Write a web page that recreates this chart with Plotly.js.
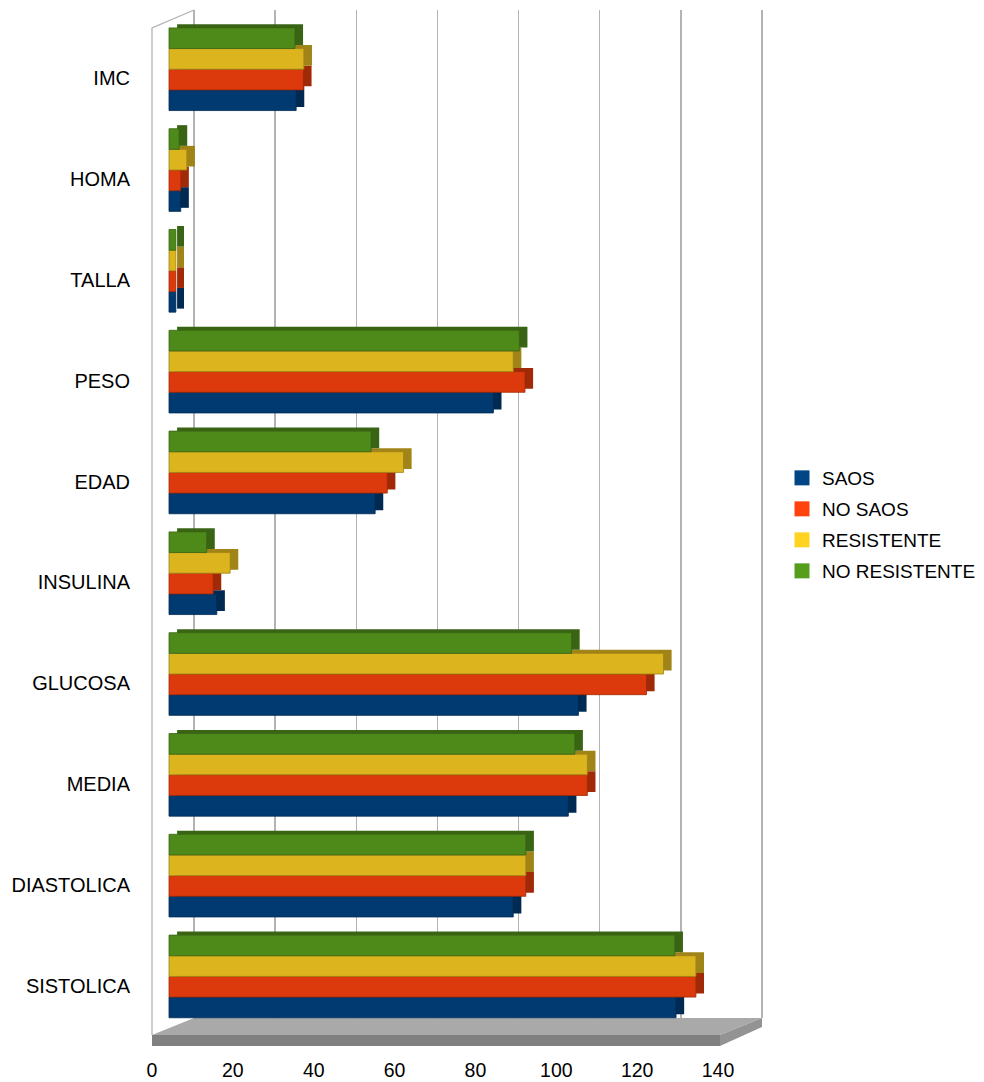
<!DOCTYPE html>
<html>
<head>
<meta charset="utf-8">
<script src="https://cdn.plot.ly/plotly-3.0.1.min.js"></script>
<style>
  html, body { margin: 0; padding: 0; background: #ffffff; }
  #chart { width: 984px; height: 1082px; }
</style>
</head>
<body>
<div id="chart"></div>
<script>
// ---- data (bottom row first) ----
const categories = ['SISTOLICA', 'DIASTOLICA', 'MEDIA', 'GLUCOSA', 'INSULINA', 'EDAD', 'PESO', 'TALLA', 'HOMA', 'IMC'];
const seriesNames = ['SAOS', 'NO SAOS', 'RESISTENTE', 'NO RESISTENTE'];
const saos         = [125.2, 85.0,  98.6, 101.1, 11.8, 50.9, 80.1, 1.7, 2.9, 31.4];
const noSaos       = [130.1, 88.1, 103.3, 117.9, 10.9, 53.9, 87.9, 1.7, 2.9, 33.2];
const resistente   = [130.1, 88.1, 103.3, 122.1, 15.1, 57.9, 85.0, 1.7, 4.4, 33.3];
const noResistente = [124.9, 88.1, 100.2,  99.4,  9.3, 49.9, 86.5, 1.7, 2.5, 31.1];
const xTicks = [0, 20, 40, 60, 80, 100, 120, 140];

// ---- styling ----
const legendColors = ['#004586', '#ff420e', '#ffd320', '#579d1c'];
const frontColors  = ['#003a70', '#dc3a0c', '#dcb41e', '#4e8a1a'];
const sideColors   = ['#002a52', '#a02a08', '#a08418', '#386414'];
const FONT = 'Liberation Sans, Arial, sans-serif';

// page geometry (pixels)
const W = 984, H = 1082;
const PX = p => p / W;
const PY = p => 1 - p / H;
const FRONT_L = 152, BACK_L = 194, BACK_R = 762, FRONT_R = 720;
const WALL_TOP = 10, WALL_TOP_FRONT = 28;
const FLOOR_BACK = 1018, FLOOR_FRONT = 1035, FLOOR_BOTTOM = 1046, FLOOR_SIDE_BOTTOM = 1027;
const UNIT = 4.05;          // pixels per value unit (bars)
const BACK_UNIT = (BACK_R - BACK_L) / 140;   // pixels per unit on the back wall
const FRONT_UNIT = 4.043;   // pixels per unit along the front edge
const BAR_ZERO = 169;       // pixel where the bars start
const ROW0 = 985.5, ROW = 100.8;   // label row centre and spacing
const BAR_H = 0.205, GROUP_SHIFT = 0.09;
const DEPTH_X = 2.0, DEPTH_Y = 0.035;
const PAD = 2;              // grid axis padding so the end lines are kept

const seriesValues = [saos, noSaos, resistente, noResistente];
const rowIdx = categories.map((_, i) => i);

const traces = [];
// empty traces so the grid subplot and the value-label axis exist
traces.push({ type: 'scatter', x: [], y: [], xaxis: 'x', yaxis: 'y', showlegend: false, hoverinfo: 'skip' });
traces.push({ type: 'scatter', mode: 'markers', x: [0], y: [-5], xaxis: 'x3', yaxis: 'y2',
  marker: { size: 1, opacity: 0 }, showlegend: false, hoverinfo: 'skip' });

seriesValues.forEach((vals, s) => {
  const pos = rowIdx.map(i => i + GROUP_SHIFT + (s - 1.5) * BAR_H);
  // shaded side/top of the box
  traces.push({
    type: 'bar', orientation: 'h', xaxis: 'x2', yaxis: 'y2',
    x: vals, y: pos.map(p => p + DEPTH_Y), base: DEPTH_X, width: BAR_H,
    marker: { color: sideColors[s], line: { width: 0 } },
    showlegend: false, hoverinfo: 'skip'
  });
  // front face
  traces.push({
    type: 'bar', orientation: 'h', xaxis: 'x2', yaxis: 'y2',
    x: vals, y: pos, width: BAR_H, name: seriesNames[s],
    marker: { color: frontColors[s], line: { width: 0.8, color: sideColors[s] } },
    showlegend: false
  });
});

// legend swatches
seriesNames.forEach((n, s) => {
  traces.push({
    type: 'scatter', mode: 'markers', xaxis: 'x2', yaxis: 'y2',
    x: [null], y: [null], name: n, legendgroup: 'g' + s,
    marker: { symbol: 'square', size: 15, color: legendColors[s] },
    hoverinfo: 'skip'
  });
});

const P = (x, y) => PX(x).toFixed(5) + ',' + PY(y).toFixed(5);
const shapes = [
  // floor top
  { type: 'path', xref: 'paper', yref: 'paper', layer: 'below',
    path: `M${P(FRONT_L, FLOOR_FRONT)} L${P(FRONT_R, FLOOR_FRONT)} L${P(BACK_R, FLOOR_BACK)} L${P(BACK_L, FLOOR_BACK)} Z`,
    fillcolor: '#a9a9a9', line: { width: 0 } },
  // floor front
  { type: 'path', xref: 'paper', yref: 'paper', layer: 'below',
    path: `M${P(FRONT_L, FLOOR_FRONT)} L${P(FRONT_R, FLOOR_FRONT)} L${P(FRONT_R, FLOOR_BOTTOM)} L${P(FRONT_L, FLOOR_BOTTOM)} Z`,
    fillcolor: '#808080', line: { width: 0 } },
  // floor side
  { type: 'path', xref: 'paper', yref: 'paper', layer: 'below',
    path: `M${P(FRONT_R, FLOOR_FRONT)} L${P(BACK_R, FLOOR_BACK)} L${P(BACK_R, FLOOR_SIDE_BOTTOM)} L${P(FRONT_R, FLOOR_BOTTOM)} Z`,
    fillcolor: '#939393', line: { width: 0 } },
  // left wall edges
  { type: 'path', xref: 'paper', yref: 'paper', layer: 'below',
    path: `M${P(FRONT_L, FLOOR_FRONT)} L${P(FRONT_L, WALL_TOP_FRONT)} L${P(BACK_L, WALL_TOP)}`,
    line: { color: '#b3b3b3', width: 1.3 } }
];

const layout = {
  width: W, height: H,
  margin: { l: 0, r: 0, t: 0, b: 0 },
  paper_bgcolor: '#ffffff', plot_bgcolor: 'rgba(0,0,0,0)',
  font: { family: FONT, size: 19, color: '#000000' },
  barmode: 'overlay',
  showlegend: true,
  legend: {
    x: PX(782), y: PY(459), xanchor: 'left', yanchor: 'top',
    bgcolor: 'rgba(0,0,0,0)', tracegroupgap: 3.3, traceorder: 'grouped',
    font: { family: FONT, size: 19, color: '#000000' }
  },
  // back wall grid
  xaxis: {
    domain: [PX(BACK_L - PAD * BACK_UNIT), PX(BACK_R + PAD * BACK_UNIT)],
    range: [-PAD, 140 + PAD], anchor: 'y',
    tickvals: xTicks, showticklabels: false, ticks: '',
    showgrid: true, gridcolor: '#b3b3b3', gridwidth: 1.3,
    zeroline: false, showline: false, fixedrange: true
  },
  yaxis: {
    domain: [PY(FLOOR_BACK), PY(WALL_TOP)], range: [0, 1], anchor: 'x',
    showgrid: false, showticklabels: false, zeroline: false, showline: false, ticks: ''
  },
  // bars
  xaxis2: {
    domain: [PX(FRONT_L), PX(BACK_R)],
    range: [(FRONT_L - BAR_ZERO) / UNIT, (BACK_R - BAR_ZERO) / UNIT], anchor: 'y2',
    showgrid: false, showticklabels: false, zeroline: false, showline: false, ticks: ''
  },
  yaxis2: {
    domain: [PY(FLOOR_BOTTOM), PY(WALL_TOP)],
    range: [(ROW0 - FLOOR_BOTTOM) / ROW, (ROW0 - WALL_TOP) / ROW], anchor: 'x2',
    tickvals: rowIdx, ticktext: categories, ticks: '', ticklabelstandoff: 21,
    tickfont: { family: FONT, size: 20, color: '#000000' },
    showgrid: false, zeroline: false, showline: false
  },
  // value labels along the front edge
  xaxis3: {
    overlaying: 'x2', anchor: 'y2', side: 'bottom',
    range: [0, (BACK_R - FRONT_L) / FRONT_UNIT],
    tickvals: xTicks, ticktext: xTicks.map(String), ticks: '', ticklabelstandoff: 10,
    tickfont: { family: FONT, size: 19.5, color: '#000000' },
    showgrid: false, zeroline: false, showline: false
  },
  shapes: shapes
};

Plotly.newPlot('chart', traces, layout, { displayModeBar: false, staticPlot: true });
</script>
</body>
</html>
